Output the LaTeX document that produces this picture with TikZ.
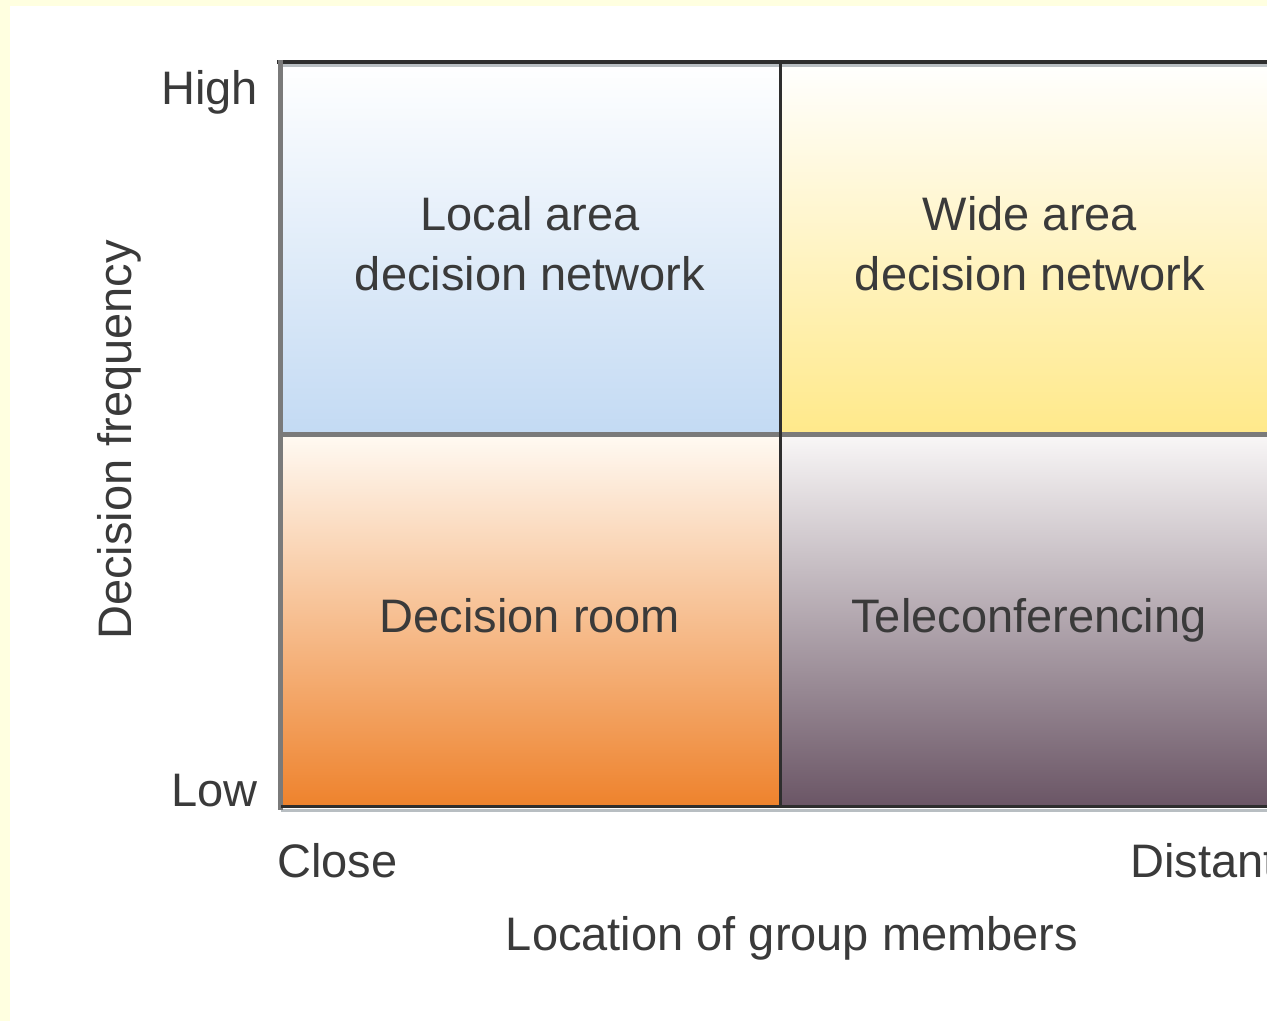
\documentclass[tikz,border=0pt]{standalone}
\usepackage{fontspec}
\setmainfont{Liberation Sans}
\definecolor{bgyellow}{HTML}{FFFFE0}
\definecolor{txt}{HTML}{3A3A3A}
\definecolor{blueb}{HTML}{C3DAF3}
\definecolor{yellowb}{HTML}{FFE98A}
\definecolor{orangeb}{HTML}{EE822C}
\definecolor{orangetop}{HTML}{FFFAF3}
\definecolor{mauveb}{HTML}{6A5565}
\definecolor{mauvetop}{HTML}{F9F7F7}
\definecolor{framedark}{HTML}{2E2E2E}
\definecolor{framegray}{HTML}{7A7A7A}
\definecolor{shadowgray}{HTML}{B8BEC2}
\tikzset{
  lbl/.style={text=txt, font=\fontsize{47}{60}\selectfont, inner sep=0pt, align=center},
}
\begin{document}
\begin{tikzpicture}[x=1pt,y=-1pt]
\useasboundingbox (0,0) rectangle (1267,1021);
\fill[white] (0,0) rectangle (1267,1021);
\fill[bgyellow] (0,0) rectangle (10,1021);
\fill[bgyellow] (0,0) rectangle (1267,6);
\begin{scope}
\clip (0,0) rectangle (1267,1021);
% quadrants
\shade[top color=white, bottom color=blueb] (281,62) rectangle (780,434);
\shade[top color=white, bottom color=yellowb] (780,62) rectangle (1300,434);
\shade[top color=orangetop, bottom color=orangeb] (281,434) rectangle (780,807);
\shade[top color=mauvetop, bottom color=mauveb] (780,434) rectangle (1300,807);
% frame lines
\draw[shadowgray, line width=3pt] (281,65) -- (1300,65);
\draw[shadowgray, line width=3pt] (281,810) -- (1300,810);
\draw[framedark, line width=4pt] (277,62) -- (1300,62);
\draw[framegray, line width=5pt] (280,60) -- (280,810);
\draw[framedark, line width=3pt] (281,806) -- (1300,806);
\draw[framegray, line width=5pt] (281,434) -- (1300,434);
\draw[framedark, line width=3pt] (780,62) -- (780,807);
\end{scope}
% quadrant labels
\node[lbl, anchor=base] (la) at (530,290) {Local area\\decision network};
\node[lbl, anchor=base] (wa) at (1030,290) {Wide area\\decision network};
\node[lbl, anchor=base] (dr) at (530,632) {Decision room};
\node[lbl, anchor=base] (tc) at (1029,632) {Teleconferencing};
% axis labels
\node[lbl, anchor=base east] (high) at (258,104) {High};
\node[lbl, anchor=base east] (low) at (258,806) {Low};
\node[lbl, anchor=base west] (close) at (277,877) {Close};
\node[lbl, anchor=base west] (distant) at (1130,877) {Distant};
\node[lbl, anchor=base] (xlab) at (792,950) {Location of group members};
\node[lbl, anchor=base, rotate=90] (ylab) at (131,440) {Decision frequency};
\end{tikzpicture}
\end{document}
